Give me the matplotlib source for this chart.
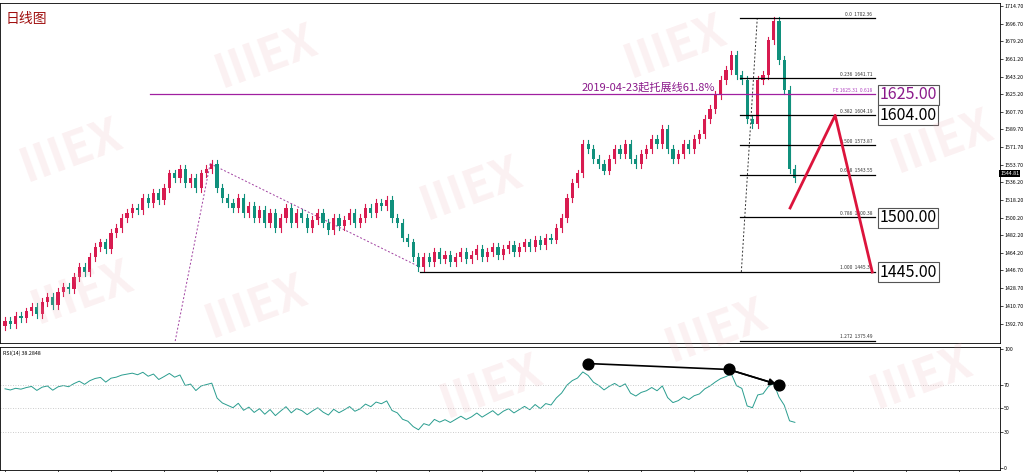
import matplotlib
matplotlib.use("Agg")
import matplotlib.pyplot as plt
import numpy as np
plt.rcParams['font.family'] = ['Noto Sans CJK SC', 'DejaVu Sans']

closes = [1395,1392,1400,1398,
 1405,1410,1402,1415,1420,1412,1425,1430,1428,
 1440,1450,1445,1460,1470,1475,1468,1485,1490,1500,1505,1510,
 1508,1520,1515,1525,1518,1530,1545,1540,1550,1535,
 1540,1530,1545,1550,1555,
 1530,1520,1515,1510,1520,1505,1512,1500,1508,1495,1505,1490,1500,
 1510,1495,1505,1500,1490,1498,1505,1495,1488,1500,1492,1498,1505,1495,1500,1510,1505,1515,1512,1518,
 1500,1495,1480,1475,1460,1450,
 1460,1455,1465,1458,1462,1455,1460,1465,1458,1462,1468,1460,1465,1470,1462,1468,1472,1465,1470,1475,1470,1478,1472,1480,1478,
 1490,1500,1520,1535,1545,1575,1570,
 1560,1555,1548,1560,1570,1565,1575,1560,1555,1565,1570,1580,1575,1590,1570,1560,1565,1575,1570,1580,1585,
 1600,1610,1625,1640,1650,1665,1645,
 1640,1600,1595,1640,1645,1680,1700,1660,1630,1550,1540]
first_open = 1390
fib_levels = [1702.36, 1641.71, 1604.19, 1573.87, 1543.55, 1500.38, 1445.38, 1375.49]
fib_names = ["0.0", "0.236", "0.382", "0.500", "0.618", "0.786", "1.000", "1.272"]
fe_level = 1625.31
box_labels = [1625.00, 1604.00, 1500.00, 1445.00]
zig_x = [148.1, 156.6, 163.6]
zig_y = [1510, 1604, 1445]
price_ticks = [1714.70,1696.70,1679.20,1661.20,1643.20,1625.20,1607.70,1589.70,1571.70,1553.70,
               1536.20,1518.20,1500.20,1482.20,1464.20,1446.70,1428.70,1410.70,1392.70]
div_x = [110, 136.5, 146]
div_y = [88, 83, 70]

fig = plt.figure(figsize=(10.24, 4.72), dpi=100)
W, H = 1024, 472
ax = fig.add_axes([0, (472-343)/H, 1000/W, 340/H])
rx = fig.add_axes([0, 2/H, 1000/W, 123/H])
x0, x1 = -0.95, 187.7
up_c, dn_c = '#d81b50', '#10907c'

opens = [first_open] + closes[:-1]
for i, (o, c) in enumerate(zip(opens, closes)):
    col = up_c if c >= o else dn_c
    hi, lo = max(o, c) + 4, min(o, c) - 4
    ax.plot([i, i], [lo, hi], color=col, lw=0.8, zorder=2)
    ax.bar(i, max(abs(c-o), 0.8), bottom=min(o, c), width=0.6, color=col, zorder=3)

ax.set_xlim(x0, x1); ax.set_ylim(1373, 1718)
for lv, nm in zip(fib_levels, fib_names):
    xs = 78.3 if nm == "1.000" else 138.7
    ax.plot([xs, 164.2], [lv, lv], color='black', lw=0.9, zorder=4)
    ax.text(163.6, lv+1.5, f"{nm}  {lv:.2f}", fontsize=3.5, ha='right', va='bottom', color='#333')
ax.plot([27.4, 164.2], [fe_level]*2, color='#a020a0', lw=0.9, zorder=4)
ax.text(163.6, fe_level+1.5, f"FE {fe_level:.2f}  0.618", fontsize=3.5, ha='right', va='bottom', color='#b040c0')
ax.text(134, fe_level+2, "2019-04-23起托展线61.8%", fontsize=8, color='#8b1a8b', ha='right', va='bottom')
for v in box_labels:
    ax.text(165, v, f"{v:.2f}", fontsize=11.5, va='center', ha='left',
            color='#8b1a8b' if v == 1625 else 'black',
            bbox=dict(boxstyle='square,pad=0.1', fc='white', ec='#555', lw=0.8), zorder=6)
ax.plot(zig_x, zig_y, color='#dc143c', lw=2, zorder=5)
ax.plot([38.7, 78.3], [1555, 1450], color='#a040a0', lw=0.7, ls=(0, (2, 2)))
ax.plot([32.1, 38.7], [1375, 1555], color='#a040a0', lw=0.7, ls=(0, (2, 2)))
ax.plot([138.9, 141.9], [1445, 1702], color='#333', lw=0.7, ls=(0, (2, 2)))
ax.text(0.006, 0.975, "日线图", transform=ax.transAxes, fontsize=10, color='#a01010', va='top')

ax.yaxis.tick_right()
ax.set_yticks(price_ticks)
ax.set_yticklabels([f"{t:.2f}" for t in price_ticks], fontsize=3.8)
ax.tick_params(axis='y', length=2, width=0.5, pad=1)
ax.set_xticks([])
ax.text(1.0, 1544.81, "1544.81", transform=ax.get_yaxis_transform(), fontsize=3.8, color='white',
        va='center', ha='left', bbox=dict(boxstyle='square,pad=0.2', fc='black', ec='none'))
for s in ax.spines.values():
    s.set_linewidth(0.6)

c = np.array([first_open] + closes, dtype=float)
d = np.diff(c)
g = np.where(d > 0, d, 0); l = np.where(d < 0, -d, 0)
ag, al = np.zeros(len(d)), np.zeros(len(d))
ag[0], al[0] = g[0] + 5, l[0] + 5
for i in range(1, len(d)):
    ag[i] = (ag[i-1]*13 + g[i]) / 14
    al[i] = (al[i-1]*13 + l[i]) / 14
rsi = 100 - 100/(1 + ag/np.maximum(al, 1e-9))
rx.plot(range(len(rsi)), rsi, color='#2a9d8f', lw=0.7)
for lv in (30, 50, 70):
    rx.axhline(lv, color='#bbb', lw=0.6, ls=(0, (1, 2)))
rx.plot(div_x, div_y, color='black', lw=1.2)
rx.scatter(div_x, div_y, s=60, color='black', zorder=5)
rx.annotate("", xy=(div_x[2], div_y[2]), xytext=(div_x[1], div_y[1]),
            arrowprops=dict(arrowstyle='-|>', color='black', lw=1.2))
rx.set_xlim(x0, x1); rx.set_ylim(-2, 102)
rx.yaxis.tick_right()
rx.set_yticks([0, 30, 50, 70, 100]); rx.set_yticklabels(['0', '30', '50', '70', '100'], fontsize=3.8)
rx.tick_params(axis='y', length=2, width=0.5, pad=1)
rx.set_xticks(np.arange(0, 188, 10)); rx.set_xticklabels([]); rx.tick_params(axis='x', length=2, width=0.5)
rx.text(0.003, 0.97, f"RSI(14) {rsi[-1]:.4f}", transform=rx.transAxes, fontsize=3.8, va='top')
for s in rx.spines.values():
    s.set_linewidth(0.6)

for (fx, fy) in [(0.07, 0.68), (0.26, 0.88), (0.46, 0.6), (0.66, 0.9), (0.08, 0.38), (0.25, 0.35), (0.48, 0.18), (0.7, 0.3), (0.9, 0.2), (0.92, 0.7)]:
    fig.text(fx, fy, "IIIEX", fontsize=34, fontweight='bold', color='#e8a0a8', alpha=0.15,
             rotation=20, ha='center', va='center')
fig.savefig("out.png", dpi=100)
